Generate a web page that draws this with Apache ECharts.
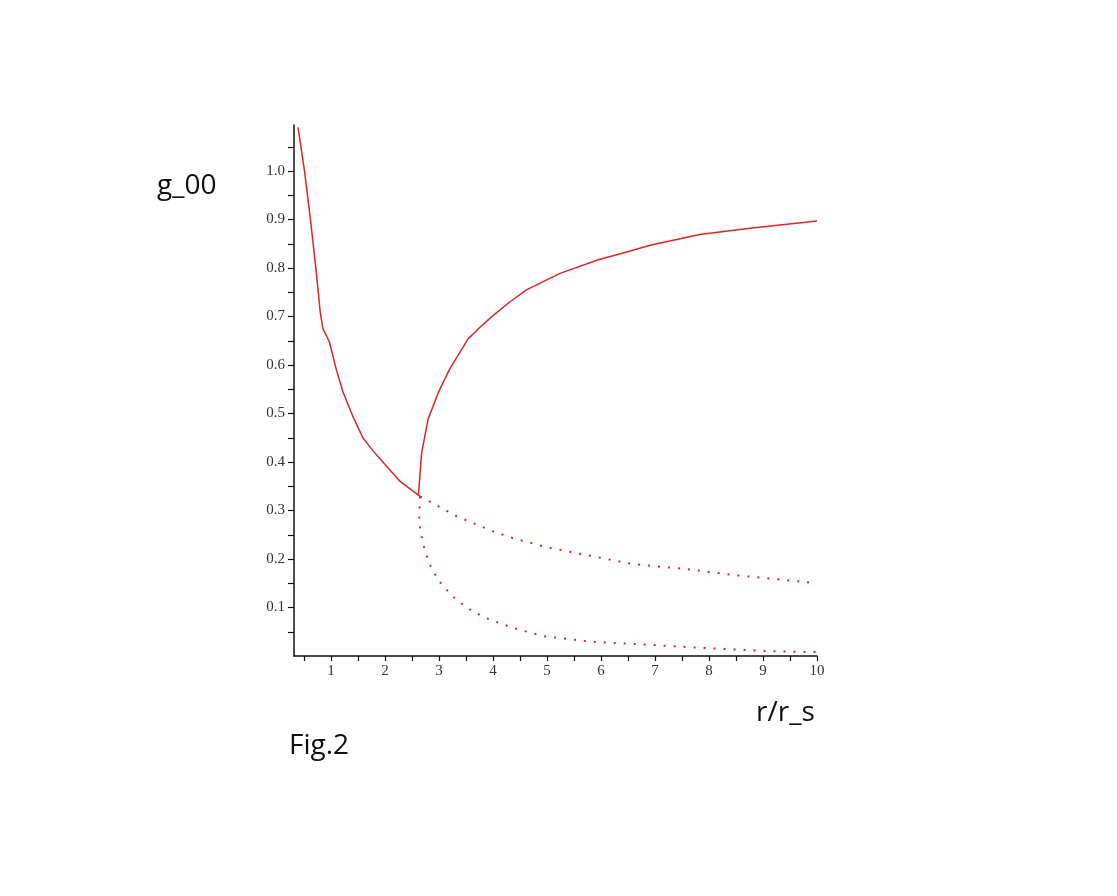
<!DOCTYPE html>
<html>
<head>
<meta charset="utf-8">
<script src="https://cdn.jsdelivr.net/npm/echarts@6/dist/echarts.min.js"></script>
<style>
  html, body { margin: 0; padding: 0; background: #fff; }
  #container { width: 1117px; height: 896px; }
</style>
</head>
<body>
<div id="container"></div>
<script>
// values, [r/r_s, g_00]
var leftBranch = [
  [0.39, 1.09], [0.51, 1.00], [0.62, 0.90], [0.72, 0.80], [0.80, 0.71],
  [0.85, 0.675], [0.97, 0.648], [1.10, 0.59], [1.22, 0.545], [1.41, 0.493],
  [1.59, 0.45], [1.78, 0.423], [1.96, 0.40], [2.28, 0.36], [2.65, 0.329]
];
var upperBranch = [
  [2.62, 0.333], [2.68, 0.42], [2.80, 0.489], [2.99, 0.544], [3.20, 0.592],
  [3.54, 0.654], [3.76, 0.678], [4.00, 0.702], [4.31, 0.73], [4.62, 0.755],
  [5.24, 0.789], [5.95, 0.817], [6.51, 0.834], [6.91, 0.847], [7.83, 0.869],
  [8.76, 0.882], [10.0, 0.897]
];
var dottedUpper = [
  [2.65, 0.329], [3.33, 0.288], [4.00, 0.257], [4.35, 0.244], [4.93, 0.226],
  [5.64, 0.21], [6.57, 0.19], [7.12, 0.184], [7.68, 0.178], [8.45, 0.167],
  [9.93, 0.151], [10.0, 0.15]
];
var dottedLower = [
  [2.65, 0.329], [2.63, 0.275], [2.70, 0.234], [2.81, 0.193], [2.98, 0.157],
  [3.24, 0.124], [3.52, 0.099], [3.85, 0.079], [4.37, 0.058], [4.93, 0.041],
  [5.85, 0.029], [6.60, 0.025], [7.83, 0.017], [9.07, 0.010], [10.0, 0.008]
];
var xTicks = [0.5, 1, 1.5, 2, 2.5, 3, 3.5, 4, 4.5, 5, 5.5, 6, 6.5, 7, 7.5, 8, 8.5, 9, 9.5, 10];
var xLabels = [1, 2, 3, 4, 5, 6, 7, 8, 9, 10];
var yTicks = [0.05, 0.1, 0.15, 0.2, 0.25, 0.3, 0.35, 0.4, 0.45, 0.5, 0.55, 0.6, 0.65, 0.7, 0.75, 0.8, 0.85, 0.9, 0.95, 1.0, 1.05];
var yLabels = [0.1, 0.2, 0.3, 0.4, 0.5, 0.6, 0.7, 0.8, 0.9, 1.0];

var red = "#e02424";
var labelFont = { fontFamily: "Liberation Serif", fontSize: 15, color: "#2f3336" };
var textFont = "28px 'Open Sans'";

var option = {
  animation: false,
  backgroundColor: "#fff",
  grid: { left: 294, right: 300, top: 125, bottom: 240 },
  xAxis: {
    type: "value",
    min: 0.315,
    max: 10,
    axisLine: { lineStyle: { color: "#111", width: 1.5 } },
    axisTick: { customValues: xTicks, length: 5, lineStyle: { color: "#111", width: 1.2 } },
    axisLabel: Object.assign({ customValues: xLabels, margin: 8 }, labelFont),
    splitLine: { show: false }
  },
  yAxis: {
    type: "value",
    min: 0,
    max: 1.095,
    axisLine: { show: true, lineStyle: { color: "#111", width: 1.5 } },
    axisTick: { show: true, customValues: yTicks, length: 6, lineStyle: { color: "#111", width: 1.2 } },
    axisLabel: Object.assign({
      customValues: yLabels, margin: 9,
      formatter: function (v) { return v.toFixed(1); }
    }, labelFont),
    splitLine: { show: false }
  },
  series: [
    {
      type: "line", data: leftBranch, showSymbol: false,
      lineStyle: { color: red, width: 1.5 }
    },
    {
      type: "line", data: upperBranch, showSymbol: false,
      lineStyle: { color: red, width: 1.5 }
    },
    {
      type: "line", data: dottedUpper, showSymbol: false,
      lineStyle: { color: red, width: 2, type: [2, 8] }
    },
    {
      type: "line", data: dottedLower, showSymbol: false,
      lineStyle: { color: red, width: 2, type: [2, 8] }
    }
  ],
  graphic: [
    { type: "text", left: 157, top: 172, style: { text: "g_00", font: textFont, fill: "#111" } },
    { type: "text", left: 756, top: 699, style: { text: "r/r_s", font: textFont, fill: "#111" } },
    { type: "text", left: 289, top: 732, style: { text: "Fig.2", font: textFont, fill: "#111" } }
  ]
};

var mychart = echarts.init(document.querySelector("#container"));
mychart.setOption(option);
</script>
</body>
</html>
